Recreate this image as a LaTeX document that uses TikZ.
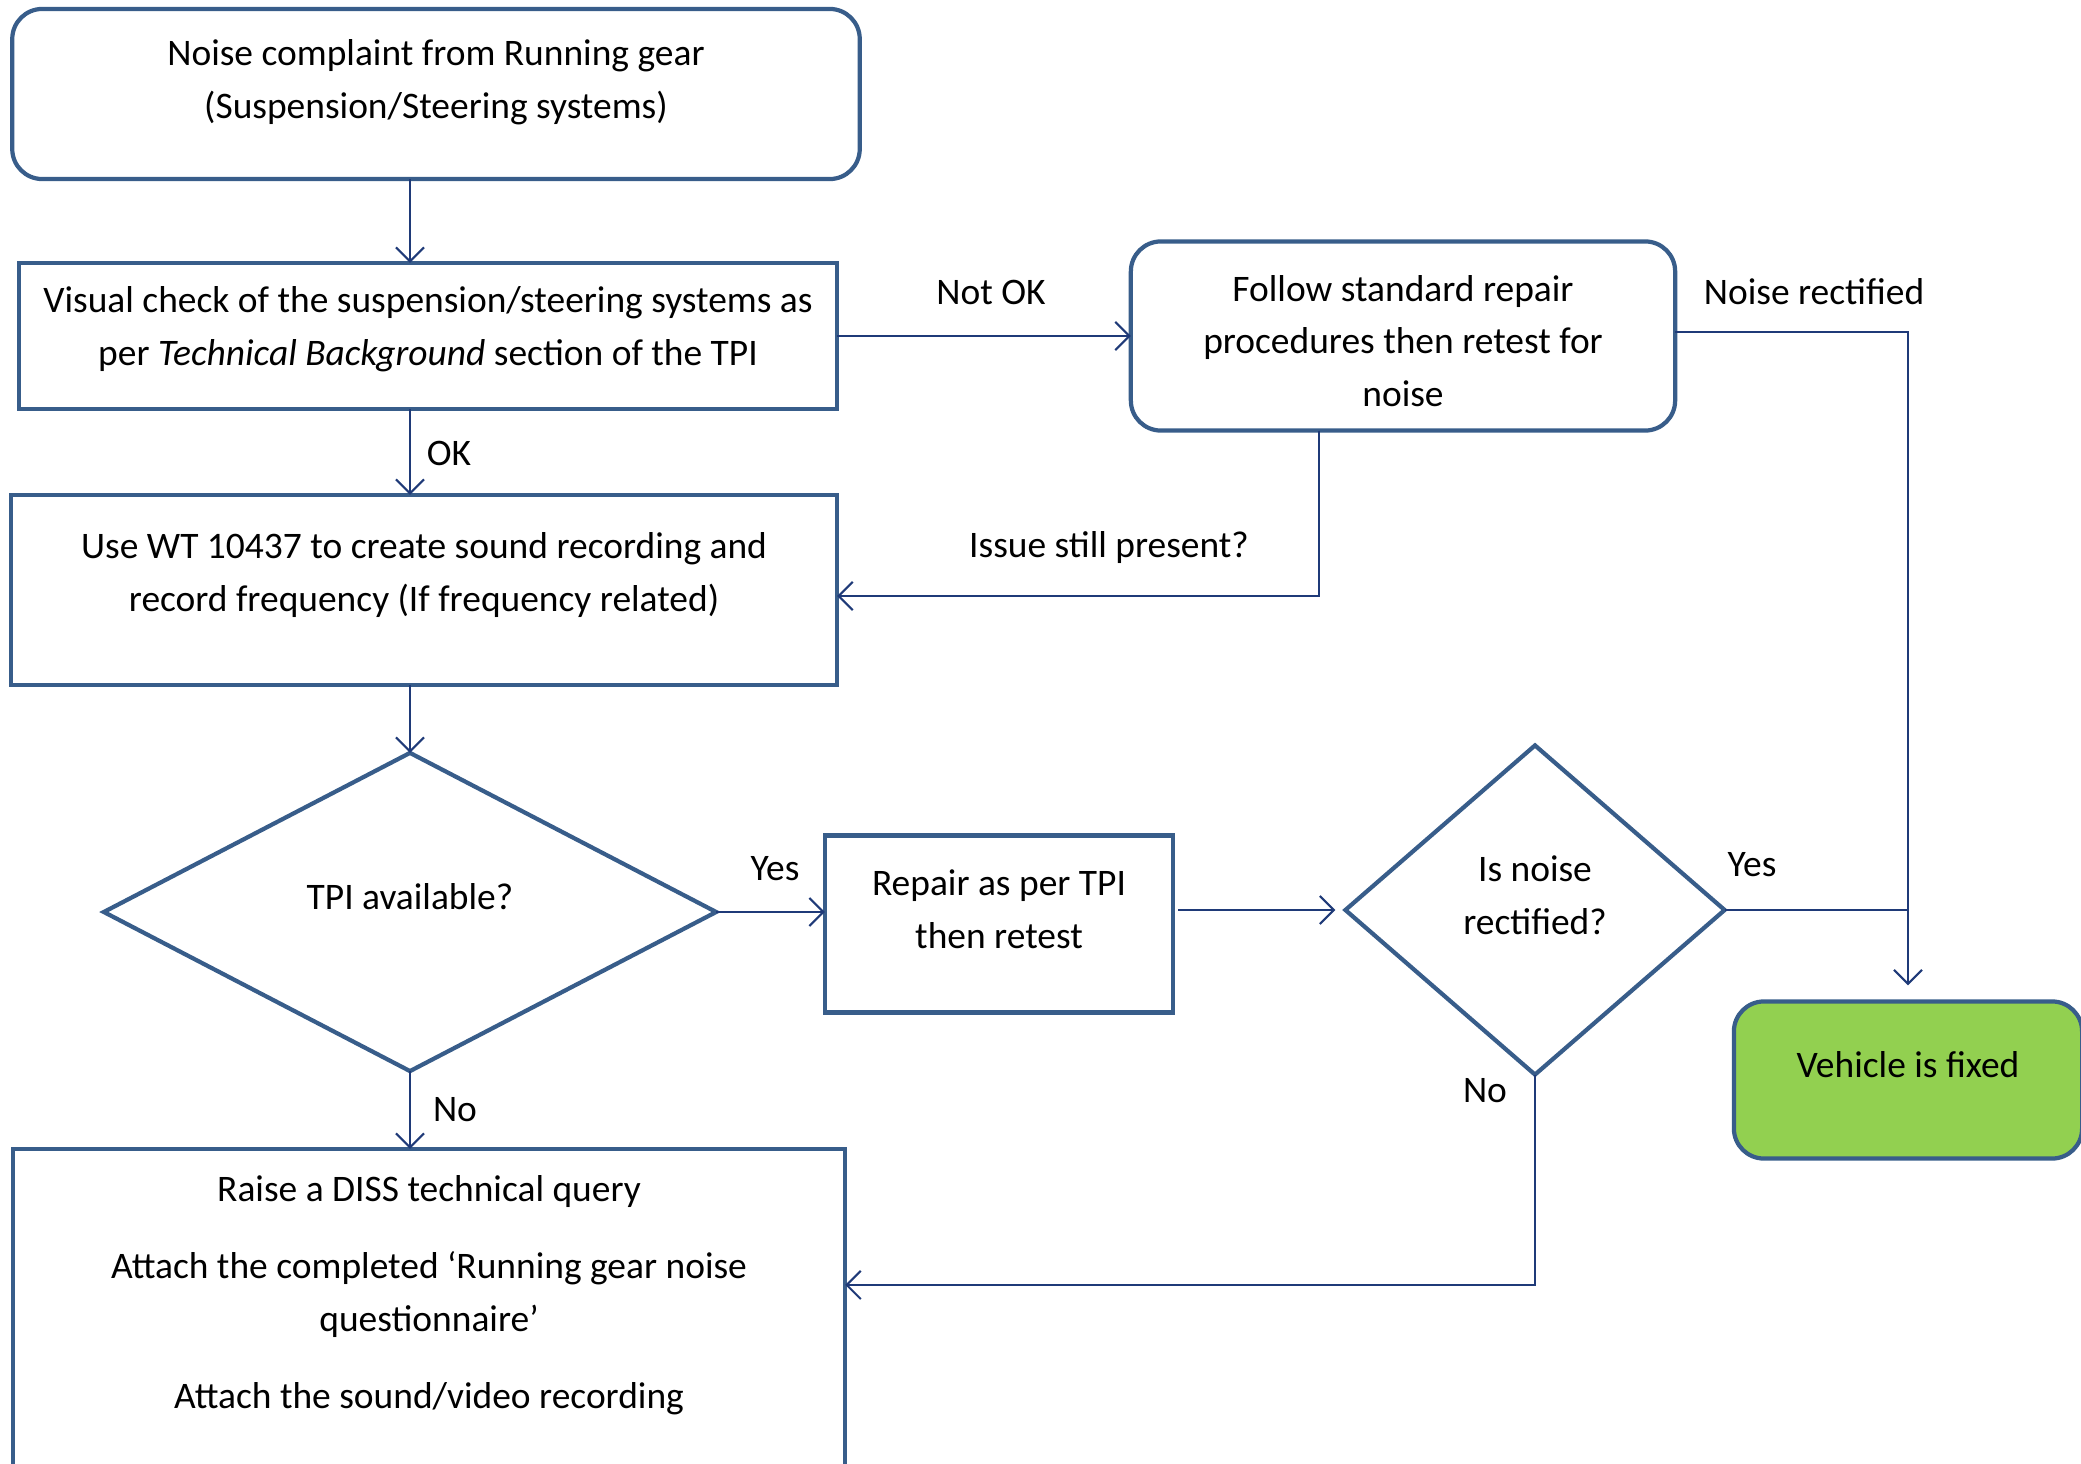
\documentclass[tikz,border=0pt]{standalone}
\usepackage{fontspec}
\setmainfont{Carlito}
\usetikzlibrary{arrows.meta,shapes.geometric}

\definecolor{boxline}{HTML}{385D8A}
\definecolor{linkline}{HTML}{1F3A78}
\definecolor{fixgreen}{HTML}{92D050}
\newcommand{\flowfont}{\fontsize{10.65pt}{15pt}\selectfont}

\begin{document}
\begin{tikzpicture}[
                    x=0.01cm,
                    y=-0.01cm,
                    ->,
                    >={Straight Barb[length=4pt,width=8pt]},
                    font=\flowfont,
                    every label/.style={align=center}
                ]
                \tikzstyle{block}=[rectangle,draw=boxline,line width=1.2pt,inner sep=0pt,outer sep=0pt]
                \tikzstyle{rblock}=[block,rounded corners=0.3cm]
                \tikzstyle{decision}=[diamond,draw=boxline,line width=1.2pt,inner sep=0pt,outer sep=0pt]
                \tikzstyle{link}=[draw=linkline,line width=0.6pt]
                \tikzstyle{tag}=[inner sep=0pt]

                \useasboundingbox (0,0) rectangle (2081,1464);

                % boxes
                \node[rblock,minimum width=8.47cm,minimum height=1.70cm] (start) at (436,94)
                    [label={[yshift=0.12cm]center:Noise complaint from Running gear\\(Suspension/Steering systems)}] {};
                \node[block,minimum width=8.18cm,minimum height=1.46cm] (check) at (428,336)
                    [label={[yshift=0.065cm]center:Visual check of the suspension/steering systems as\\per \textit{Technical Background} section of the TPI}] {};
                \node[block,minimum width=8.26cm,minimum height=1.90cm] (record) at (424,590)
                    [label={[yshift=0.15cm]center:Use WT 10437 to create sound recording and\\record frequency (If frequency related)}] {};
                \node[decision,minimum width=6.12cm,minimum height=3.18cm] (tpi) at (410,912)
                    [label={[yshift=0.15cm]center:TPI available?}] {};
                \node[block,minimum width=3.48cm,minimum height=1.77cm] (repair) at (999,924)
                    [label={[yshift=0.15cm]center:Repair as per TPI\\then retest}] {};
                \node[decision,minimum width=3.79cm,minimum height=3.29cm] (rect) at (1535,910)
                    [label={[yshift=0.15cm]center:Is noise\\rectified?}] {};
                \node[rblock,minimum width=5.44cm,minimum height=1.89cm] (follow) at (1403,336)
                    [label={[yshift=-0.05cm]center:Follow standard repair\\procedures then retest for\\noise}] {};
                \node[rblock,fill=fixgreen,minimum width=3.48cm,minimum height=1.57cm] (fixed) at (1908,1080)
                    [label={[yshift=0.15cm]center:Vehicle is fixed}] {};
                \node[block,minimum width=8.32cm,minimum height=3.22cm] (diss) at (429,1310)
                    [label={[yshift=0.15cm]center:Raise a DISS technical query\\[7pt]Attach the completed ‘Running gear noise\\questionnaire’\\[7pt]Attach the sound/video recording}] {};

                % connector texts
                \node[tag] (ok) at (449,453) {OK};
                \node[tag] (notok) at (991,292) {Not OK};
                \node[tag] (still) at (1109,548) {Issue still present?};
                \node[tag] (rectified) at (1814,292) {Noise rectified};
                \node[tag] (yes1) at (775,869) {Yes};
                \node[tag] (yes2) at (1752,865) {Yes};
                \node[tag] (no1) at (455,1110) {No};
                \node[tag] (no2) at (1485,1091) {No};

                % connectors
                \draw[link] (start.south -| tpi.north) -- (check.north -| tpi.north);
                \draw[link] (check.south -| tpi.north) -- (record.north -| tpi.north);
                \draw[link] (record.south -| tpi.north) -- (tpi.north);
                \draw[link] (tpi.south) -- (diss.north -| tpi.south);
                \draw[link] (tpi.east) -- (tpi.east -| repair.west);
                \draw[link,shorten <=0.05cm,shorten >=0.1cm] (repair.east |- rect.west) -- (rect.west);
                \draw[link,-] (rect.east) -- (rect.east -| fixed.north);
                \draw[link,shorten >=0.16cm] ([yshift=0.04cm]follow.east) -| (fixed.north);
                \draw[link] (check.east) -- (check.east -| follow.west);
                \draw[link] ([xshift=-0.84cm]follow.south) |- ([yshift=-0.06cm]record.east);
                \draw[link] (rect.south) |- ([yshift=0.25cm]diss.east);
            \end{tikzpicture}
\end{document}
